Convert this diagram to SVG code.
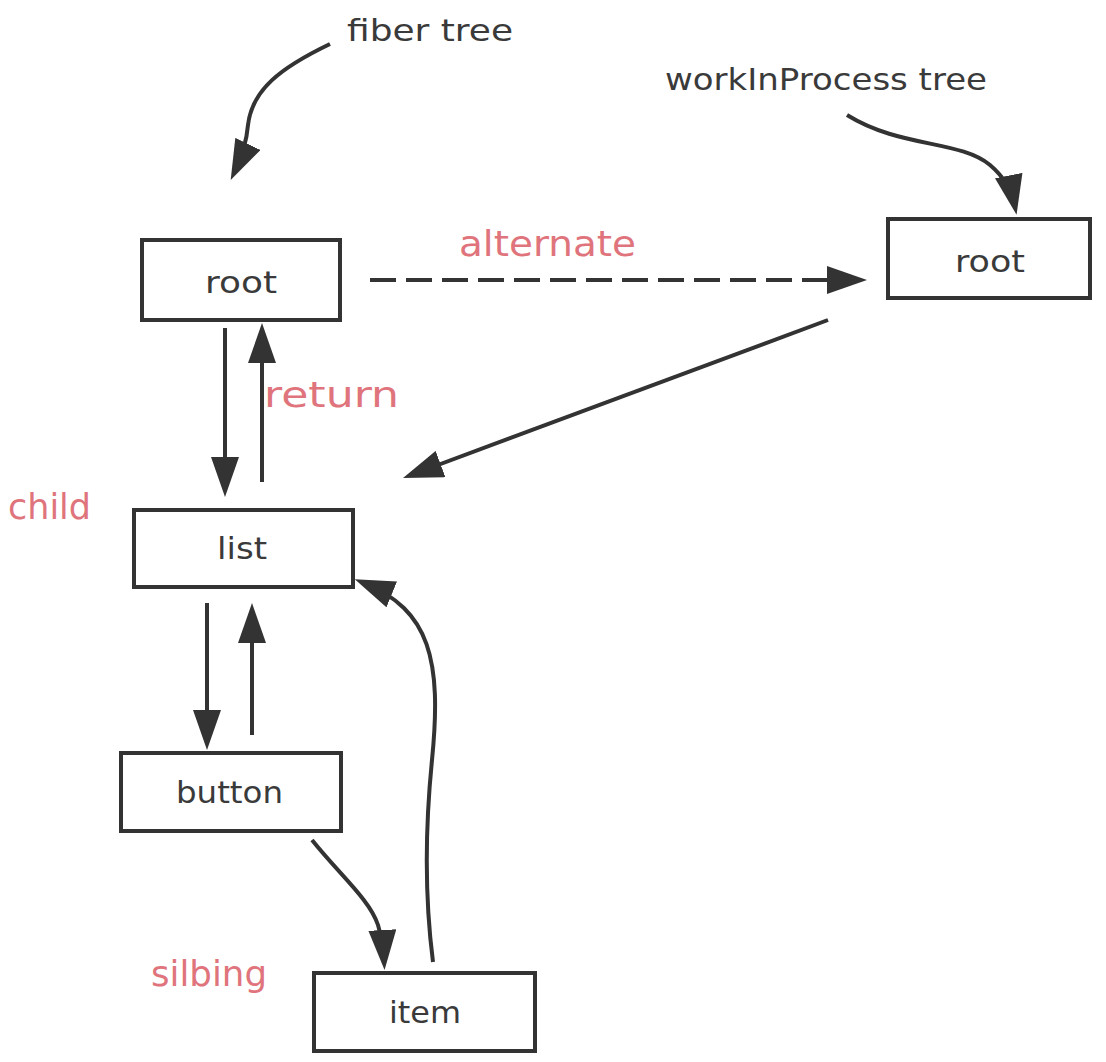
<svg xmlns="http://www.w3.org/2000/svg" width="1106" height="1062" viewBox="0 0 1106 1062">
  <style>
    .box { fill: #ffffff; stroke: #333333; stroke-width: 4; }
    .name { font-family: "DejaVu Sans", "Liberation Sans", sans-serif; font-size: 31px; fill: #3a3a3a; }
    .note { font-family: "DejaVu Sans", "Liberation Sans", sans-serif; font-size: 31px; fill: #3a3a3a; }
    .tag { font-family: "DejaVu Sans", "Liberation Sans", sans-serif; font-size: 35px; fill: #e0747c; }
    .link { fill: none; stroke: #333333; stroke-width: 4; marker-end: url(#head); }
    .dashed { stroke-dasharray: 26 10; }
  </style>
  <defs>
    <marker id="head" markerUnits="userSpaceOnUse" viewBox="0 0 40 28" markerWidth="40" markerHeight="28" refX="30" refY="14" orient="auto">
      <path d="M0,0 L40,14 L0,28 z" fill="#333333"/>
    </marker>
  </defs>

  <rect width="1106" height="1062" fill="#ffffff"/>

  <!-- free-standing captions and edge labels -->
  <g id="labels">
    <text class="note" x="347" y="41" textLength="166" lengthAdjust="spacingAndGlyphs">fiber tree</text>
    <text class="note" x="665" y="90" textLength="322" lengthAdjust="spacingAndGlyphs">workInProcess tree</text>
    <text class="tag" x="459" y="256" textLength="177" lengthAdjust="spacingAndGlyphs">alternate</text>
    <text class="tag" x="264" y="407" textLength="135" lengthAdjust="spacingAndGlyphs">return</text>
    <text class="tag" x="8" y="519" textLength="83" lengthAdjust="spacingAndGlyphs">child</text>
    <text class="tag" x="151" y="986" textLength="116" lengthAdjust="spacingAndGlyphs">silbing</text>
  </g>

  <!-- connectors -->
  <g id="connectors">
    <path class="link" d="M330,44 C280,68 252,90 248,125 Q246,148 235,171"/>
    <path class="link" d="M847,115 C900,148 960,140 990,165 Q1010,182 1014.6,205"/>
    <path class="link dashed" d="M370,280 L857,280"/>
    <path class="link" d="M225,328 L225,487"/>
    <path class="link" d="M262,482 L262,333"/>
    <path class="link" d="M828,320 L412.4,474.5"/>
    <path class="link" d="M207,603 L207,740"/>
    <path class="link" d="M252,735 L252,613"/>
    <path class="link" d="M312,840 C340,875 370,900 378,925 Q383,942 384,960"/>
    <path class="link" d="M433,962 C425,900 425,830 432,760 C442,660 430,610 364,583"/>
  </g>

  <!-- nodes -->
  <g id="node-root">
    <rect class="box" x="142" y="240" width="198" height="80"/>
    <text class="name" x="205" y="293" textLength="72" lengthAdjust="spacingAndGlyphs">root</text>
  </g>
  <g id="node-wip-root">
    <rect class="box" x="888" y="219" width="202" height="79"/>
    <text class="name" x="955" y="272" textLength="70" lengthAdjust="spacingAndGlyphs">root</text>
  </g>
  <g id="node-list">
    <rect class="box" x="134" y="510" width="219" height="77"/>
    <text class="name" x="217" y="559" textLength="50" lengthAdjust="spacingAndGlyphs">list</text>
  </g>
  <g id="node-button">
    <rect class="box" x="121" y="753" width="220" height="78"/>
    <text class="name" x="176" y="803" textLength="107" lengthAdjust="spacingAndGlyphs">button</text>
  </g>
  <g id="node-item">
    <rect class="box" x="314" y="973" width="221" height="78"/>
    <text class="name" x="389" y="1023" textLength="72" lengthAdjust="spacingAndGlyphs">item</text>
  </g>
</svg>
